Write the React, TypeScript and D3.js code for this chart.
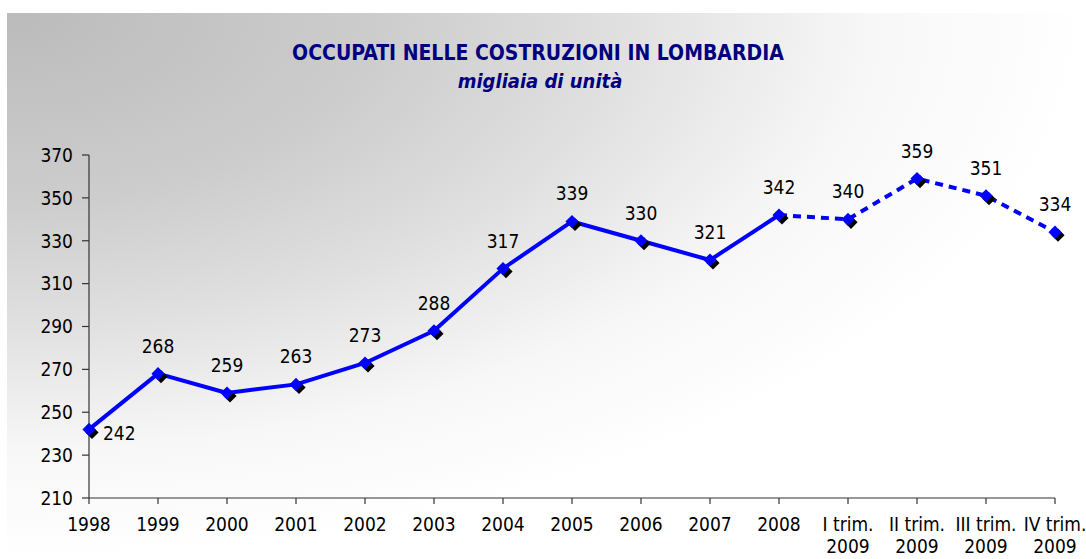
import * as d3 from "d3";

const categories = [
  "1998", "1999", "2000", "2001", "2002", "2003", "2004", "2005", "2006", "2007", "2008",
  "I trim.\n2009", "II trim.\n2009", "III trim.\n2009", "IV trim.\n2009",
];
const values = [242, 268, 259, 263, 273, 288, 317, 339, 330, 321, 342, 340, 359, 351, 334];
// index where quarterly (dashed) data begins, counted from the last annual point
const dashedFrom = 10;
const yTicks = [210, 230, 250, 270, 290, 310, 330, 350, 370];

const title = "OCCUPATI NELLE COSTRUZIONI IN LOMBARDIA";
const subtitle = "migliaia di unità";

const font = "'DejaVu Sans Condensed', 'DejaVu Sans', sans-serif";

export default function App() {
  const width = 1086;
  const height = 559;
  const x = d3.scalePoint<string>().domain(categories).range([89, 1055]).padding(0);
  const y = d3.scaleLinear().domain([210, 370]).range([498, 155]);

  const points = values.map((v, i) => [x(categories[i]) ?? 0, y(v)] as [number, number]);
  const line = d3.line<[number, number]>();
  const solid = points.slice(0, dashedFrom + 1);
  const dashed = points.slice(dashedFrom);

  const diamond = d3.symbol().type(d3.symbolDiamond2).size(110)();

  return (
    <svg
      width={width}
      height={height}
      style={{ position: "absolute", left: 0, top: 0, fontFamily: font }}
    >
      <defs>
        <radialGradient id="bg" cx="0" cy="0" r="1" fx="0" fy="0" gradientUnits="objectBoundingBox">
          <stop offset="0" stopColor="#bbbbbb" />
          <stop offset="0.35" stopColor="#cdcdcd" />
          <stop offset="0.55" stopColor="#dedede" />
          <stop offset="0.8" stopColor="#f7f7f7" />
          <stop offset="1" stopColor="#ffffff" />
        </radialGradient>
      </defs>
      <rect x={0} y={0} width={width} height={height} fill="#ffffff" />
      <rect x={7} y={13} width={width - 7} height={height - 13} fill="url(#bg)" />

      <text x={538} y={60} textAnchor="middle" fill="#000080" fontWeight="bold" fontSize={21}>
        {title}
      </text>
      <text x={540} y={88} textAnchor="middle" fill="#000080" fontWeight="bold" fontStyle="italic" fontSize={20}>
        {subtitle}
      </text>

      {/* axes */}
      <g stroke="#333" strokeWidth={1.2}>
        <line x1={89} x2={89} y1={y(370)} y2={y(210)} />
        {yTicks.map((t) => (
          <line key={t} x1={82} x2={89} y1={y(t)} y2={y(t)} />
        ))}
        <line x1={89} x2={1055} y1={y(210)} y2={y(210)} />
        {categories.map((c) => (
          <line key={c} x1={x(c)} x2={x(c)} y1={y(210)} y2={y(210) + 6} />
        ))}
      </g>
      {yTicks.map((t) => (
        <text key={t} x={73} y={y(t)} dy="0.36em" textAnchor="end" fontSize={19} fill="#000">
          {t}
        </text>
      ))}
      {categories.map((c) => (
        <text key={c} x={x(c)} y={531} textAnchor="middle" fontSize={19} fill="#000">
          {c.split("\n").map((part, i) => (
            <tspan key={i} x={x(c)} dy={i === 0 ? 0 : 22}>
              {part}
            </tspan>
          ))}
        </text>
      ))}

      <path d={line(solid) ?? undefined} fill="none" stroke="#0000ff" strokeWidth={4} strokeLinejoin="round" />
      <path d={line(dashed) ?? undefined} fill="none" stroke="#0000ff" strokeWidth={4} strokeDasharray="8 6" />

      {points.map(([px, py], i) => (
        <path key={`s${i}`} d={diamond ?? undefined} transform={`translate(${px + 3},${py + 3})`} fill="#000" />
      ))}
      {points.map(([px, py], i) => (
        <path key={`m${i}`} d={diamond ?? undefined} transform={`translate(${px},${py})`} fill="#0000ff" />
      ))}

      {points.map(([px, py], i) =>
        i === 0 ? (
          <text key={`l${i}`} x={px + 14} y={py + 11} fontSize={19} fill="#000">
            {values[i]}
          </text>
        ) : (
          <text key={`l${i}`} x={px} y={py - 21} textAnchor="middle" fontSize={19} fill="#000">
            {values[i]}
          </text>
        )
      )}
    </svg>
  );
}
